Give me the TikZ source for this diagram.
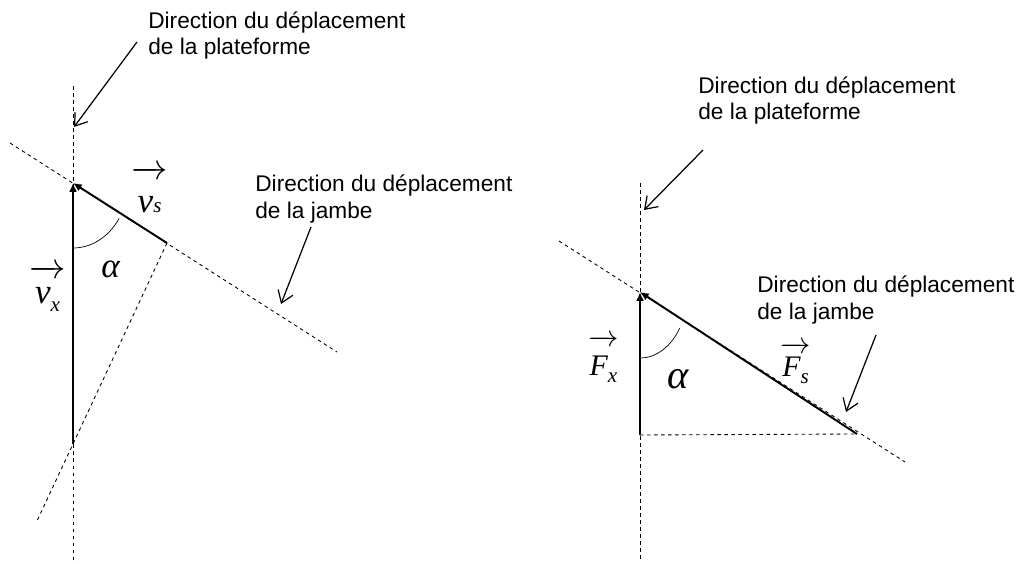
\documentclass[tikz,border=0pt]{standalone}
\usepackage{fontspec}
\setmainfont{Liberation Sans}
\newfontfamily\serifit{Liberation Serif}
\usetikzlibrary{arrows.meta}

\begin{document}
\begin{tikzpicture}[
  x=0.02cm, y=0.02cm,
  axe/.style={dash pattern=on 2pt off 2pt, line width=0.5pt},
  vecteur/.style={line width=1.1pt, -{Latex[length=5pt, width=4.5pt]}},
  fleche/.style={line width=0.7pt, -{Straight Barb[length=6.5pt, width=9pt]}},
  legende/.style={align=left, inner sep=0pt, font=\fontsize{12.9pt}{15.3pt}\selectfont},
  grandeur/.style={inner sep=0pt, anchor=base west, font=\fontsize{20pt}{20pt}\selectfont\serifit\itshape}
]
\useasboundingbox (0,0) rectangle (1024,-564);

% gauche : les vitesses
\coordinate (A) at (73,-183);
\coordinate (S) at (167,-243);
\coordinate (X) at (73,-444);
\coordinate (platHaut) at (73,-86);
\coordinate (platBas) at (73,-564);
\coordinate (jambeHaut) at (10,-143);
\coordinate (jambeBas) at (337,-352);
\coordinate (perpBas) at (37,-521);
\draw[axe] (platHaut) -- (platBas);
\draw[axe] (jambeHaut) -- (jambeBas);
\draw[axe] (S) -- (perpBas);
\draw[vecteur] (X) -- (A);
\draw[vecteur] (S) -- (A);
\draw (73,-248) arc[start angle=270, end angle=327, x radius=1.1cm, y radius=1.3cm];

\node[grandeur] (vs) at (131,-213) {$\overrightarrow{\rule{0pt}{20pt}\hbox{v\fontsize{12pt}{12pt}\selectfont s}}$};
\node[grandeur] (vx) at (29,-303) {$\overrightarrow{\rule{0pt}{15pt}\hbox{v\raisebox{-5pt}{\fontsize{12pt}{12pt}\selectfont x}}}$};
\node[grandeur, font=\fontsize{20pt}{20pt}\selectfont\serifit\itshape] (alphaG) at (101,-277) {α};

\node[legende, anchor=base west] (txtPlatG) at (148,-55) {Direction du déplacement\\de la plateforme};
\node[legende, anchor=base west] (txtJambeG) at (255,-218) {Direction du déplacement\\de la jambe};
\coordinate (dPlatG) at (137,-42);
\coordinate (aPlatG) at (74,-127);
\coordinate (dJambeG) at (311,-227);
\coordinate (aJambeG) at (281,-304);
\draw[fleche] (dPlatG) -- (aPlatG);
\draw[fleche] (dJambeG) -- (aJambeG);

% droite : les forces
\coordinate (B) at (640,-292);
\coordinate (T) at (857,-434);
\coordinate (Y) at (640,-435);
\coordinate (platHautD) at (640,-183);
\coordinate (platBasD) at (640,-560);
\coordinate (jambeHautD) at (559,-241);
\coordinate (jambeBasD) at (905,-462);
\draw[axe] (platHautD) -- (platBasD);
\draw[axe] (jambeHautD) -- (jambeBasD);
\draw[axe] (Y) -- (T);
\draw[vecteur] (Y) -- (B);
\draw[vecteur] (T) -- (B);
\draw (640,-358) arc[start angle=270, end angle=327, x radius=0.95cm, y radius=1.32cm];

\node[grandeur, font=\fontsize{17pt}{17pt}\selectfont\serifit\itshape] (Fx) at (588,-375) {$\overrightarrow{\rule{0pt}{17pt}\hbox{F\raisebox{-4pt}{\fontsize{12pt}{12pt}\selectfont x}}}$};
\node[grandeur, font=\fontsize{17pt}{17pt}\selectfont\serifit\itshape] (Fs) at (780,-376) {$\overrightarrow{\rule{0pt}{14pt}\hbox{F\raisebox{-4pt}{\fontsize{12pt}{12pt}\selectfont s}}}$};
\node[grandeur, font=\fontsize{23pt}{23pt}\selectfont\serifit\itshape] (alphaD) at (667,-388) {α};

\node[legende, anchor=base west] (txtPlatD) at (698,-120) {Direction du déplacement\\de la plateforme};
\node[legende, anchor=base west] (txtJambeD) at (757,-319) {Direction du déplacement\\de la jambe};
\coordinate (dPlatD) at (703,-150);
\coordinate (aPlatD) at (644,-210);
\coordinate (dJambeD) at (876,-335);
\coordinate (aJambeD) at (846,-412);
\draw[fleche] (dPlatD) -- (aPlatD);
\draw[fleche] (dJambeD) -- (aJambeD);
\end{tikzpicture}
\end{document}
